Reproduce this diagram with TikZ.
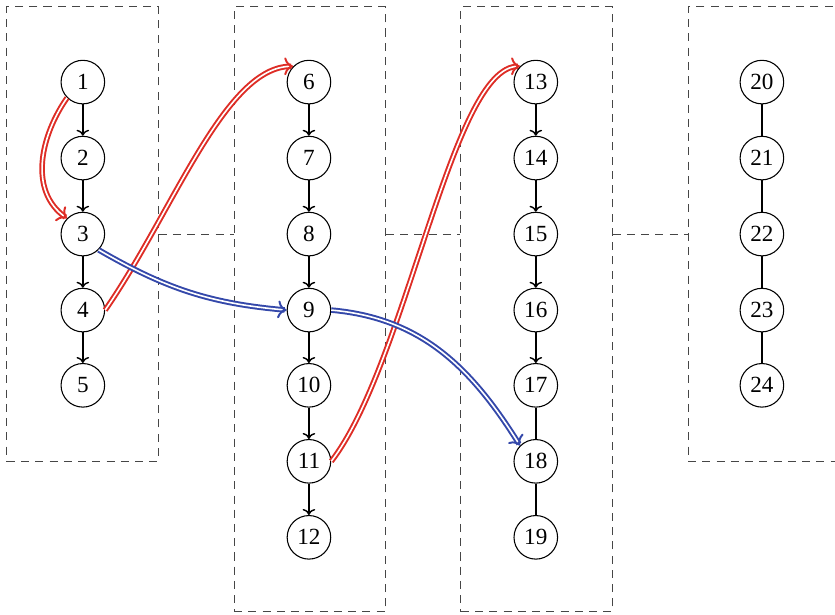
\documentclass[tikz,border=0pt]{standalone}
\usepackage{fontspec}
\setmainfont{Liberation Serif}
\usepackage{tikz}
\usetikzlibrary{arrows.meta}
\usepackage{xcolor}
\definecolor{hopred}{RGB}{222,45,38}
\definecolor{hopblue}{RGB}{52,72,170}
\definecolor{partgray}{RGB}{70,70,70}

\begin{document}
\begin{tikzpicture}[x=1.5cm, y=-1.5cm,
	vert/.style={circle, draw, line width=0.6pt, minimum size=0.86cm, inner sep=0pt, font=\fontsize{13}{15}\selectfont},
	part/.style={draw=partgray, dashed, dash pattern=on 4.5pt off 3.5pt, line width=0.6pt, minimum width=2.985cm, inner sep=0pt},
	tree/.style={line width=0.8pt},
	redhop/.style={draw=hopred, double=white, line width=1.1pt, double distance=0.9pt, -{To[length=5pt,width=10pt]}},
	bluehop/.style={draw=hopblue, double=white, line width=1.1pt, double distance=0.9pt, -{To[length=5pt,width=10pt]}}]
	\useasboundingbox (0,0) rectangle (10.987,8.079);

	% partitions
	\node[part, minimum height=8.97cm]  (P1) at (1.085,3.08)  {};
	\node[part, minimum height=11.94cm] (P2) at (4.075,4.07)  {};
	\node[part, minimum height=11.94cm] (P3) at (7.06,4.07)   {};
	\node[part, minimum height=8.97cm]  (P4) at (10.05,3.08)  {};

	% vertices
	\node[vert] (v1) at (1.09,1.08)  {1};
	\node[vert] (v2) at (1.09,2.08)  {2};
	\node[vert] (v3) at (1.09,3.08)  {3};
	\node[vert] (v4) at (1.09,4.08)  {4};
	\node[vert] (v5) at (1.09,5.07)  {5};

	\node[vert] (v6)  at (4.065,1.08) {6};
	\node[vert] (v7)  at (4.065,2.08) {7};
	\node[vert] (v8)  at (4.065,3.08) {8};
	\node[vert] (v9)  at (4.065,4.08) {9};
	\node[vert] (v10) at (4.065,5.07) {10};
	\node[vert] (v11) at (4.065,6.07) {11};
	\node[vert] (v12) at (4.065,7.07) {12};

	\node[vert] (v13) at (7.05,1.08) {13};
	\node[vert] (v14) at (7.05,2.08) {14};
	\node[vert] (v15) at (7.05,3.08) {15};
	\node[vert] (v16) at (7.05,4.08) {16};
	\node[vert] (v17) at (7.05,5.07) {17};
	\node[vert] (v18) at (7.05,6.07) {18};
	\node[vert] (v19) at (7.05,7.07) {19};

	\node[vert] (v20) at (10.025,1.08) {20};
	\node[vert] (v21) at (10.025,2.08) {21};
	\node[vert] (v22) at (10.025,3.08) {22};
	\node[vert] (v23) at (10.025,4.08) {23};
	\node[vert] (v24) at (10.025,5.07) {24};

	% links between partitions
	\draw[part] (P1.east |- v3) -- (P2.west |- v3);
	\draw[part] (P2.east |- v3) -- (P3.west |- v3);
	\draw[part] (P3.east |- v3) -- (P4.west |- v3);

	\draw[tree, ->] (v1) -- (v2);
	\draw[tree, ->] (v2) -- (v3);
	\draw[tree, ->] (v3) -- (v4);
	\draw[tree, ->] (v4) -- (v5);
	\draw[tree, ->] (v6) -- (v7);
	\draw[tree, ->] (v7) -- (v8);
	\draw[tree, ->] (v8) -- (v9);
	\draw[tree, ->] (v9) -- (v10);
	\draw[tree, ->] (v10) -- (v11);
	\draw[tree, ->] (v11) -- (v12);
	\draw[tree, ->] (v13) -- (v14);
	\draw[tree, ->] (v14) -- (v15);
	\draw[tree, ->] (v15) -- (v16);
	\draw[tree, ->] (v16) -- (v17);
	\draw[tree] (v17) -- (v18);
	\draw[tree] (v18) -- (v19);
	\draw[tree] (v20) -- (v21);
	\draw[tree] (v21) -- (v22);
	\draw[tree] (v22) -- (v23);
	\draw[tree] (v23) -- (v24);

	\draw[redhop] (v1.south west) to[out=235, in=145] (v3.north west);
	\draw[redhop] (v4.east) .. controls +(0.9,-1.3) and +(-0.9,0) .. (v6.north west);
	\draw[redhop] (v11.east) .. controls +(1.0,-1.3) and +(-0.9,0) .. (v13.north west);
	\draw[bluehop] (v3.south east) to[out=-30, in=175] (v9.west);
	\draw[bluehop] (v9.east) to[out=-5, in=122] (v18.north west);
\end{tikzpicture}
\end{document}
